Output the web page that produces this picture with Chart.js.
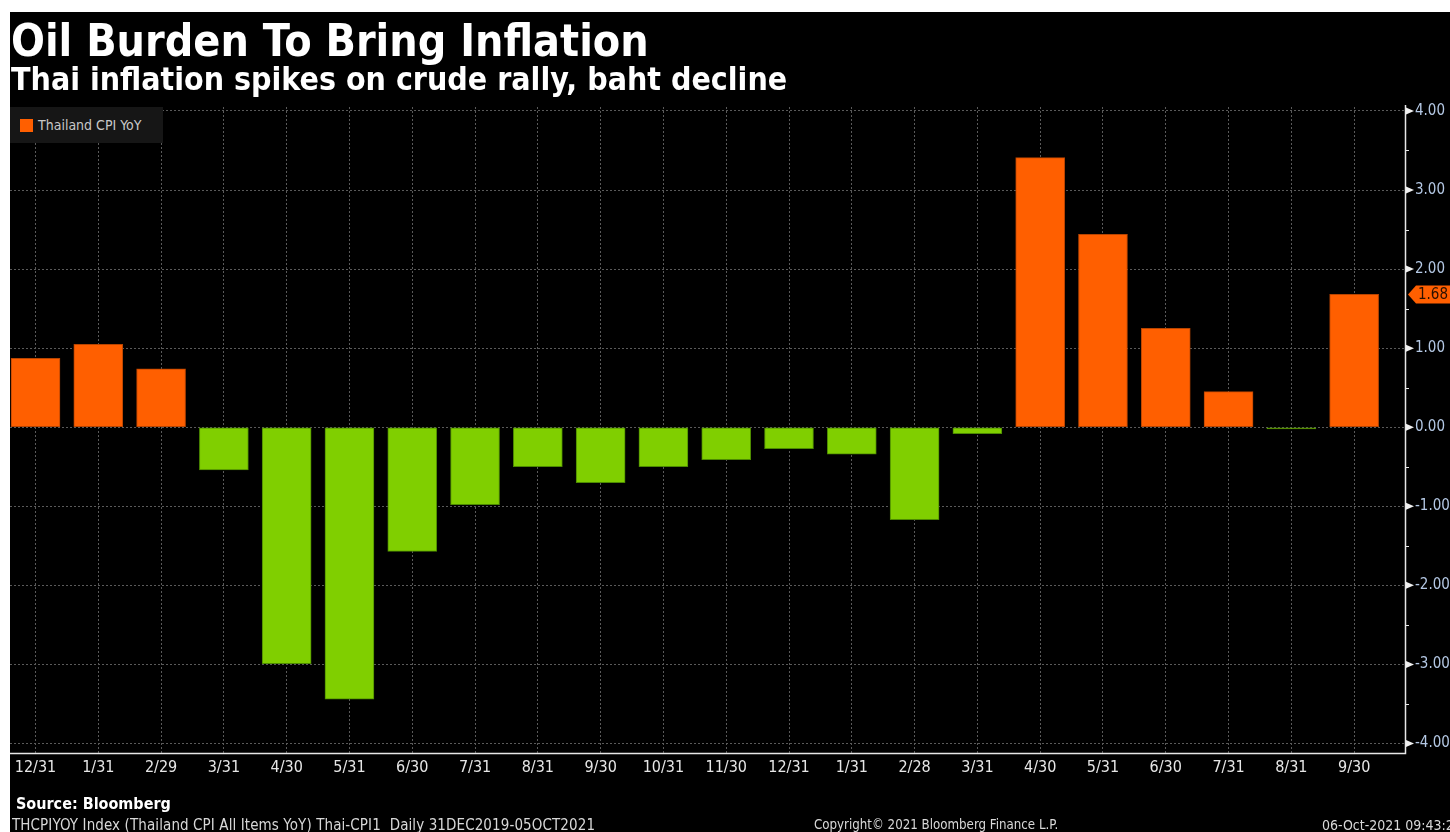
<!DOCTYPE html>
<html>
<head>
<meta charset="utf-8">
<script src="https://cdn.jsdelivr.net/npm/chart.js@4.4.0/dist/chart.umd.min.js"></script>
<style>
  html, body { margin: 0; padding: 0; background: #fff; }
  #frame { position: absolute; left: 10px; top: 12px; width: 1440px; height: 820px; background: #000; }
  #wrap { position: absolute; left: 0; top: 0; width: 1450px; height: 832px; }
  .txt { position: absolute; white-space: nowrap; line-height: 1; font-family: "DejaVu Sans Condensed", "DejaVu Sans", sans-serif; }
  #title { left: 11px; top: 19px; font-size: 44.4px; font-weight: bold; color: #fff; }
  #subtitle { left: 11px; top: 63px; font-size: 31.8px; font-weight: bold; color: #fff; }
  #legend { position: absolute; left: 10px; top: 107px; width: 153px; height: 36px; background: #161616; }
  #legend .sw { position: absolute; left: 10px; top: 12px; width: 13px; height: 13px; background: #ff5f00; }
  #legend .lb { left: 28px; top: 11px; font-size: 14px; color: #c8c8c8; }
  #source { left: 16px; top: 796px; font-size: 16px; font-weight: bold; color: #fff; }
  #ticker { left: 12px; top: 818px; font-size: 15px; letter-spacing: 0.1px; color: #d8d8d8; }
  #copy { left: 814px; top: 818px; font-size: 13.2px; color: #d8d8d8; }
  #stamp { left: 1322px; top: 818px; font-size: 14px; color: #d8d8d8; }
</style>
</head>
<body>
<div id="frame"></div>
<div id="wrap"><canvas id="cpiChart" width="1450" height="832"></canvas></div>
<div class="txt" id="title">Oil Burden To Bring Inflation</div>
<div class="txt" id="subtitle">Thai inflation spikes on crude rally, baht decline</div>
<div id="legend"><div class="sw"></div><div class="txt lb">Thailand CPI YoY</div></div>
<div class="txt" id="source">Source: Bloomberg</div>
<div class="txt" id="ticker">THCPIYOY Index (Thailand CPI All Items YoY) Thai-CPI1&nbsp; Daily 31DEC2019-05OCT2021</div>
<div class="txt" id="copy">Copyright© 2021 Bloomberg Finance L.P.</div>
<div class="txt" id="stamp">06-Oct-2021 09:43:25</div>

<script>
// Thailand CPI YoY, monthly (month-end), Dec 2019 - Sep 2021
const monthLabels = ['12/31', '1/31', '2/29', '3/31', '4/30', '5/31', '6/30', '7/31', '8/31', '9/30', '10/31',
                     '11/30', '12/31', '1/31', '2/28', '3/31', '4/30', '5/31', '6/30', '7/31', '8/31', '9/30'];
const cpiYoY = [0.87, 1.05, 0.74, -0.54, -2.99, -3.44, -1.57, -0.98, -0.50, -0.70, -0.50,
                -0.41, -0.27, -0.34, -1.17, -0.08, 3.41, 2.44, 1.25, 0.45, -0.02, 1.68];
const yTicks = [-4, -3, -2, -1, 0, 1, 2, 3, 4];

const ORANGE = '#ff5f00';
const GREEN = '#80cf00';

const points = cpiYoY.map((v, i) => ({ x: i, y: v }));

// ejes blancos, flechas en el eje derecho y etiqueta del último valor
const bbgAxis = {
    id: 'bbgAxis',
    afterDraw(chart) {
        const { ctx, chartArea: a, scales } = chart;
        const ys = scales.y;
        ctx.save();
        ctx.strokeStyle = '#e8e8e8';
        ctx.lineWidth = 1.5;
        ctx.beginPath();
        ctx.moveTo(a.left, a.bottom + 0.5);
        ctx.lineTo(a.right + 0.5, a.bottom + 0.5);
        ctx.lineTo(a.right + 0.5, a.top - 2);
        ctx.stroke();

        // ticks menores
        ctx.lineWidth = 1;
        for (let v = -3.5; v <= 3.5; v += 1) {
            const py = Math.round(ys.getPixelForValue(v)) + 0.5;
            ctx.beginPath();
            ctx.moveTo(a.right, py);
            ctx.lineTo(a.right + 4, py);
            ctx.stroke();
        }
        // flechas en ticks mayores (apuntan hacia la etiqueta)
        ctx.fillStyle = '#f0f0f0';
        yTicks.forEach(v => {
            const py = ys.getPixelForValue(v);
            ctx.beginPath();
            ctx.moveTo(a.right + 1, py - 3.5);
            ctx.lineTo(a.right + 9, py);
            ctx.lineTo(a.right + 1, py + 3.5);
            ctx.closePath();
            ctx.fill();
        });

        // marcador del último valor
        const last = cpiYoY[cpiYoY.length - 1];
        const py = ys.getPixelForValue(last);
        const x0 = a.right + 3;
        ctx.fillStyle = ORANGE;
        ctx.beginPath();
        ctx.moveTo(x0, py);
        ctx.lineTo(x0 + 8, py - 9);
        ctx.lineTo(chart.width, py - 9);
        ctx.lineTo(chart.width, py + 9);
        ctx.lineTo(x0 + 8, py + 9);
        ctx.closePath();
        ctx.fill();
        ctx.fillStyle = '#2a1000';
        ctx.font = '15px "DejaVu Sans Condensed", "DejaVu Sans", sans-serif';
        ctx.textBaseline = 'middle';
        ctx.fillText(last.toFixed(2), x0 + 10, py + 1);
        ctx.restore();
    }
};

new Chart(document.getElementById('cpiChart').getContext('2d'), {
    type: 'bar',
    data: {
        datasets: [{
            label: 'Thailand CPI YoY',
            data: points,
            backgroundColor: cpiYoY.map(v => v >= 0 ? ORANGE : GREEN),
            borderColor: cpiYoY.map(v => v >= 0 ? '#b84400' : '#4c8a00'),
            borderWidth: 1,
            borderSkipped: false,
            barThickness: 49
        }]
    },
    options: {
        responsive: false,
        animation: false,
        layout: { padding: { left: 10, right: 0, top: 107, bottom: 44 } },
        plugins: {
            legend: { display: false },
            tooltip: { enabled: false }
        },
        scales: {
            x: {
                type: 'linear',
                offset: false,
                min: -0.406,
                max: 21.81,
                afterBuildTicks: s => { s.ticks = monthLabels.map((_, i) => ({ value: i })); },
                afterFit: s => { s.height = 35; },
                grid: { color: '#5a5a5a', drawTicks: false, lineWidth: 1, offset: false },
                border: { display: false, dash: [2, 2] },
                ticks: {
                    color: '#e6e6e6',
                    padding: 5,
                    maxRotation: 0,
                    autoSkip: false,
                    font: { family: '"DejaVu Sans Condensed", "DejaVu Sans", sans-serif', size: 16 },
                    callback: v => monthLabels[v]
                }
            },
            y: {
                position: 'right',
                min: -4.12,
                max: 4.05,
                afterBuildTicks: s => { s.ticks = yTicks.map(v => ({ value: v })); },
                afterFit: s => { s.width = 45; },
                grid: { color: '#5a5a5a', drawTicks: false, lineWidth: 1 },
                border: { display: false, dash: [2, 2] },
                ticks: {
                    color: '#b4c8e4',
                    padding: 10,
                    font: { family: '"DejaVu Sans Condensed", "DejaVu Sans", sans-serif', size: 15 },
                    callback: v => v.toFixed(2)
                }
            }
        }
    },
    plugins: [bbgAxis]
});
</script>
</body>
</html>
